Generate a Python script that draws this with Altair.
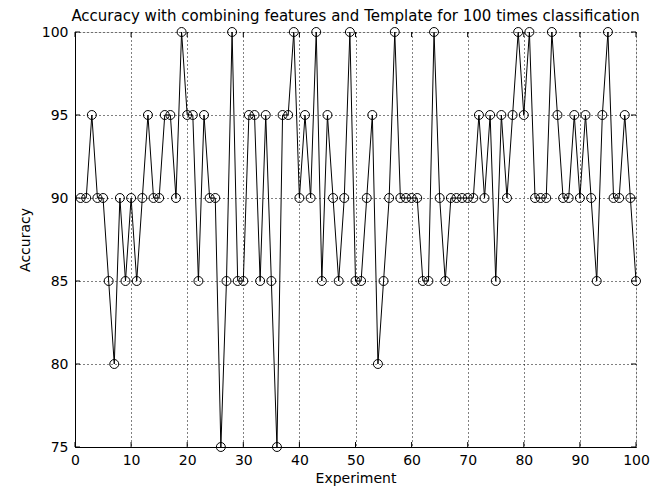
import altair as alt
import pandas as pd

experiments = list(range(1, 101))
accuracy = [
    90, 90, 95, 90, 90, 85, 80, 90, 85, 90,
    85, 90, 95, 90, 90, 95, 95, 90, 100, 95,
    95, 85, 95, 90, 90, 75, 85, 100, 85, 85,
    95, 95, 85, 95, 85, 75, 95, 95, 100, 90,
    95, 90, 100, 85, 95, 90, 85, 90, 100, 85,
    85, 90, 95, 80, 85, 90, 100, 90, 90, 90,
    90, 85, 85, 100, 90, 85, 90, 90, 90, 90,
    90, 95, 90, 95, 85, 95, 90, 95, 100, 95,
    100, 90, 90, 90, 100, 95, 90, 90, 95, 90,
    95, 90, 85, 95, 100, 90, 90, 95, 90, 85,
]
x_ticks = [0, 10, 20, 30, 40, 50, 60, 70, 80, 90, 100]
y_ticks = [75, 80, 85, 90, 95, 100]

W, H = 561, 415
FONT = "DejaVu Sans"

df = pd.DataFrame({"Experiment": experiments, "Accuracy": accuracy})
xt = pd.DataFrame({"t": x_ticks})
yt = pd.DataFrame({"t": y_ticks})

xscale = alt.Scale(domain=[0, 100], nice=False, zero=False)
yscale = alt.Scale(domain=[75, 100], nice=False, zero=False)

x_axis = alt.Axis(values=x_ticks, grid=True, gridColor="black", gridDash=[1, 3],
                  gridOpacity=1, gridWidth=1, tickSize=0, labelPadding=6,
                  labelFontSize=14, labelFont=FONT, labelColor="black",
                  domainColor="black", titleFont=FONT, titleFontSize=14,
                  titleFontWeight="normal", titleColor="black", titlePadding=4,
                  labelFlush=False)
y_axis = alt.Axis(values=y_ticks, grid=True, gridColor="black", gridDash=[1, 3],
                  gridOpacity=1, gridWidth=1, tickSize=0, labelPadding=7,
                  labelFontSize=14, labelFont=FONT, labelColor="black",
                  domainColor="black", titleFont=FONT, titleFontSize=14,
                  titleFontWeight="normal", titleColor="black", titlePadding=9,
                  labelFlush=False)

base = alt.Chart(df)
line = base.mark_line(color="black", strokeWidth=1).encode(
    x=alt.X("Experiment:Q", scale=xscale, axis=x_axis, title="Experiment"),
    y=alt.Y("Accuracy:Q", scale=yscale, axis=y_axis, title="Accuracy"),
)
pts = base.mark_point(shape="circle", filled=False, color="black", size=80,
                      strokeWidth=1, opacity=1).encode(
    x=alt.X("Experiment:Q", scale=xscale),
    y=alt.Y("Accuracy:Q", scale=yscale),
)

tb = alt.Chart(xt).mark_rule(color="black", strokeWidth=1).encode(
    x=alt.X("t:Q", scale=xscale), y=alt.value(H), y2=alt.value(H - 5))
tt = alt.Chart(xt).mark_rule(color="black", strokeWidth=1).encode(
    x=alt.X("t:Q", scale=xscale), y=alt.value(0), y2=alt.value(5))
tl = alt.Chart(yt).mark_rule(color="black", strokeWidth=1).encode(
    y=alt.Y("t:Q", scale=yscale), x=alt.value(0), x2=alt.value(5))
tr = alt.Chart(yt).mark_rule(color="black", strokeWidth=1).encode(
    y=alt.Y("t:Q", scale=yscale), x=alt.value(W), x2=alt.value(W - 5))

chart = alt.layer(tb, tt, tl, tr, line, pts).properties(
    width=W, height=H,
    title=alt.TitleParams(
        "Accuracy with combining features and Template for 100 times classification",
        font=FONT, fontSize=15, fontWeight="normal", color="black",
        anchor="middle", baseline="bottom", offset=4, dy=18),
    autosize=alt.AutoSizeParams(type="none"),
    padding={"left": 67, "top": 24, "right": 16, "bottom": 46},
).configure_view(stroke="black", strokeWidth=1).configure(background="white")

chart.save("out.html", embed_options={"renderer": "svg", "actions": False})
